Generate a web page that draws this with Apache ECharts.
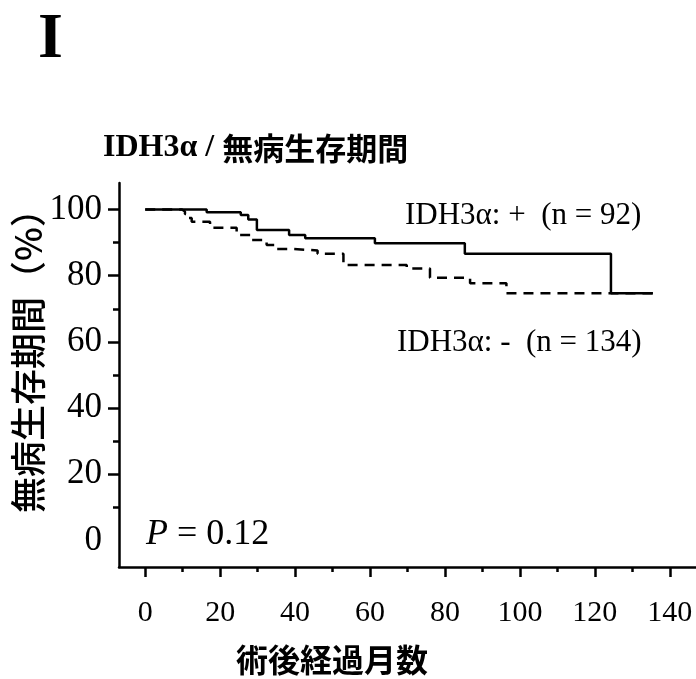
<!DOCTYPE html>
<html>
<head>
<meta charset="utf-8">
<script src="https://cdn.jsdelivr.net/npm/echarts@6/dist/echarts.min.js"></script>
<style>
  html, body { margin: 0; padding: 0; background: #fff; }
  #chart { width: 696px; height: 679px; }
</style>
</head>
<body>
<div id="chart"></div>
<script>
// 生存曲線のデータ (月, %)
const monthsPos = [0, 16.4, 25.5, 27.5, 29.8, 38.4, 42.7, 61.3, 85.3, 124.3, 135.5]
const survPos = [100, 99.2, 98.3, 97.0, 93.8, 92.3, 91.3, 89.8, 86.6, 74.7, 74.7]

const monthsNeg = [0, 9.8, 10.6, 11.4, 12.4, 17.3, 24.4, 28.0, 32.4, 35.1, 39.1, 46.0, 52.9, 69.8, 76.0, 86.7, 96.4, 135.5]
const survNeg = [100, 99.4, 98.6, 97.4, 96.3, 94.5, 92.3, 90.8, 89.3, 88.1, 87.6, 86.6, 83.2, 82.2, 79.4, 77.7, 74.7, 74.7]

const xTicks = [0, 20, 40, 60, 80, 100, 120, 140]
const xMinorTicks = [10, 30, 50, 70, 90, 110, 130]
const yTicks = [20, 40, 60, 80, 100]
const yLabels = [0, 20, 40, 60, 80, 100]
const yMinorTicks = [10, 30, 50, 70, 90]

const labelPos = 'IDH3α: +  (n = 92)'
const labelNeg = 'IDH3α: -  (n = 134)'

const serif = '"Liberation Serif", "Times New Roman", serif'
const gothic = '"Noto Sans CJK JP", "Noto Sans", sans-serif'

const chart = echarts.init(document.getElementById('chart'), null, { renderer: 'canvas' })

const axisColor = '#000'

const option = {
  animation: false,
  backgroundColor: '#fff',
  grid: { left: 119, right: 0, top: 183, bottom: 112 },
  xAxis: [
    {
      type: 'value',
      min: -7,
      max: 147,
      position: 'bottom',
      splitLine: { show: false },
      axisLine: { show: true, onZero: false, lineStyle: { color: axisColor, width: 2.5 } },
      axisTick: { show: true, customValues: xTicks, length: 10, lineStyle: { color: axisColor, width: 2.5 } },
      axisLabel: { customValues: xTicks, margin: 31, color: '#000', fontFamily: serif, fontSize: 30 }
    },
    {
      // 補助目盛
      type: 'value',
      min: -7,
      max: 147,
      position: 'bottom',
      splitLine: { show: false },
      axisLine: { show: false, onZero: false },
      axisTick: { show: true, customValues: xMinorTicks, length: 5, lineStyle: { color: axisColor, width: 2.5 } },
      axisLabel: { show: false }
    }
  ],
  yAxis: [
    {
      type: 'value',
      min: -8,
      max: 108,
      position: 'left',
      splitLine: { show: false },
      axisLine: { show: true, onZero: false, lineStyle: { color: axisColor, width: 2.5 } },
      axisTick: { show: true, customValues: yTicks, length: 11, lineStyle: { color: axisColor, width: 2.5 } },
      axisLabel: { customValues: yLabels, margin: 17, color: '#000', fontFamily: serif, fontSize: 35 }
    },
    {
      // 補助目盛
      type: 'value',
      min: -8,
      max: 108,
      position: 'left',
      splitLine: { show: false },
      axisLine: { show: false, onZero: false },
      axisTick: { show: true, customValues: yMinorTicks, length: 6, lineStyle: { color: axisColor, width: 2.5 } },
      axisLabel: { show: false }
    }
  ],
  series: [
    {
      name: labelPos,
      type: 'line',
      step: 'end',
      data: monthsPos.map((m, i) => [m, survPos[i]]),
      showSymbol: false,
      symbol: 'none',
      lineStyle: { color: '#000', width: 2.5 }
    },
    {
      name: labelNeg,
      type: 'line',
      step: 'end',
      data: monthsNeg.map((m, i) => [m, survNeg[i]]),
      showSymbol: false,
      symbol: 'none',
      lineStyle: { color: '#000', width: 2.5, type: [10, 7] }
    }
  ],
  graphic: [
    // パネル記号
    {
      type: 'text', left: 38, top: 8,
      style: { text: 'I', font: 'bold 64px ' + serif, fill: '#000' }
    },
    // タイトル
    {
      type: 'text', x: 103, y: 148,
      style: {
        text: '{a|IDH3α / }{b|無病生存期間}',
        verticalAlign: 'middle',
        rich: {
          a: { fontFamily: serif, fontWeight: 'bold', fontSize: 32, fill: '#000' },
          b: { fontFamily: gothic, fontWeight: 'bold', fontSize: 31, fill: '#000' }
        }
      }
    },
    // y軸名
    {
      type: 'text', x: 28, y: 352, rotation: Math.PI / 2,
      style: {
        text: '無病生存期間（%）', align: 'center', verticalAlign: 'middle',
        font: '500 36px ' + gothic, fill: '#000'
      }
    },
    // x軸名
    {
      type: 'text', x: 332, y: 660,
      style: {
        text: '術後経過月数', align: 'center', verticalAlign: 'middle',
        font: 'bold 32px ' + gothic, fill: '#000'
      }
    },
    // 群ラベル
    {
      type: 'text', x: 405, y: 216,
      style: { text: labelPos, verticalAlign: 'middle', font: '31px ' + serif, fill: '#000' }
    },
    {
      type: 'text', x: 397, y: 343,
      style: { text: labelNeg, verticalAlign: 'middle', font: '31px ' + serif, fill: '#000' }
    },
    // P値
    {
      type: 'text', x: 146, y: 535,
      style: {
        text: '{i|P} = 0.12',
        verticalAlign: 'middle',
        font: '36px ' + serif,
        fill: '#000',
        rich: { i: { fontFamily: serif, fontStyle: 'italic', fontSize: 36, fill: '#000' } }
      }
    }
  ]
}

chart.setOption(option)
</script>
</body>
</html>
